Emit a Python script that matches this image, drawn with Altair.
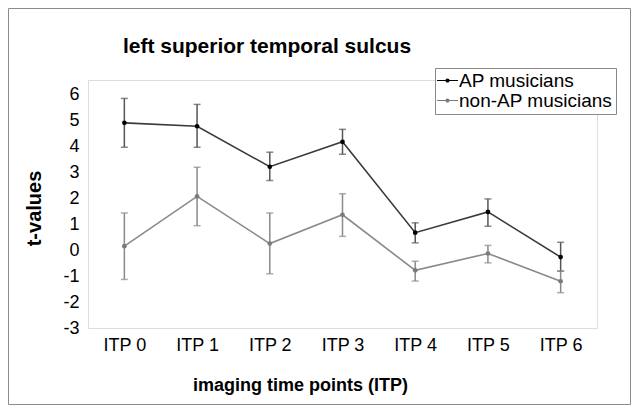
import altair as alt
import pandas as pd

itp = ["ITP 0", "ITP 1", "ITP 2", "ITP 3", "ITP 4", "ITP 5", "ITP 6"]
series = ["AP musicians", "non-AP musicians"]

ap_mean = [4.90, 4.77, 3.21, 4.17, 0.67, 1.47, -0.27]
ap_hi = [5.84, 5.61, 3.77, 4.65, 1.05, 1.97, 0.30]
ap_lo = [3.96, 3.96, 2.68, 3.69, 0.28, 0.92, -0.81]

non_mean = [0.15, 2.07, 0.25, 1.36, -0.78, -0.13, -1.20]
non_hi = [1.43, 3.19, 1.43, 2.17, -0.43, 0.18, -0.81]
non_lo = [-1.13, 0.94, -0.91, 0.53, -1.19, -0.49, -1.64]

y_ticks = [-3, -2, -1, 0, 1, 2, 3, 4, 5, 6]

rows = []
for name, m, lo, hi in [(series[0], ap_mean, ap_lo, ap_hi), (series[1], non_mean, non_lo, non_hi)]:
    for i, t in enumerate(itp):
        rows.append({"series": name, "itp": t, "value": m[i], "lo": lo[i], "hi": hi[i]})
df = pd.DataFrame(rows)

FONT = "Liberation Sans"
W, H = 509, 248

xscale = alt.Scale(type="point", padding=0.5, domain=itp)
yscale = alt.Scale(domain=[-3, 6.55], nice=False, zero=False)

xaxis = alt.Axis(
    title="imaging time points (ITP)", labelAngle=0, ticks=False, domain=False,
    labelFontSize=18, labelFont=FONT, labelColor="black", labelPadding=8,
    titleFontSize=18, titleFont=FONT, titleFontWeight="bold", titleColor="black",
    titleX=212, titleY=57, titleBaseline="middle", titleAlign="center",
)
yaxis = alt.Axis(
    title="t-values", values=y_ticks, ticks=False, domain=False, grid=False,
    labelExpr="'' + datum.value",
    labelFontSize=18, labelFont=FONT, labelColor="black", labelPadding=9,
    titleFontSize=20, titleFont=FONT, titleFontWeight="bold", titleColor="black",
    titleX=-54, titleY=128, titleBaseline="middle", titleAlign="center",
)

X = alt.X("itp:N", scale=xscale, axis=xaxis, sort=itp)

frame = alt.Chart(pd.DataFrame({"k": [0]})).mark_rect(
    fillOpacity=0, stroke="#8c8c8c", strokeWidth=1
).encode(
    x=alt.value(-79.5), x2=alt.value(542.5), y=alt.value(-71.5), y2=alt.value(324.5)
)

base = alt.Chart(df)

err_color = alt.Color("series:N", scale=alt.Scale(domain=series, range=["#555555", "#8a8a8a"]), legend=None)

rules = base.mark_rule(strokeWidth=1.5).encode(
    x=X, y=alt.Y("lo:Q", scale=yscale, axis=yaxis), y2="hi:Q", color=err_color
)
caps_lo = base.mark_tick(size=7, thickness=1.5).encode(
    x=X, y=alt.Y("lo:Q", scale=yscale, axis=yaxis), color=err_color
)
caps_hi = base.mark_tick(size=7, thickness=1.5).encode(
    x=X, y=alt.Y("hi:Q", scale=yscale, axis=yaxis), color=err_color
)

lines = base.mark_line(strokeWidth=1.6).encode(
    x=X, y=alt.Y("value:Q", scale=yscale, axis=yaxis),
    color=alt.Color("series:N", scale=alt.Scale(domain=series, range=["#3a3a3a", "#8a8a8a"]), legend=None),
)

legend_symbol = "M-2,-0.09H2V0.09H-2Z M-0.4,0A0.4,0.4,0,1,1,0.4,0A0.4,0.4,0,1,1,-0.4,0"

points = base.mark_point(filled=True, size=22, opacity=1).encode(
    x=X, y=alt.Y("value:Q", scale=yscale, axis=yaxis),
    color=alt.Color(
        "series:N",
        scale=alt.Scale(domain=series, range=["#000000", "#7a7a7a"]),
        legend=alt.Legend(
            title=None, orient="none", legendX=347, legendY=-12,
            symbolType=legend_symbol, symbolSize=110, symbolOpacity=1,
            labelFontSize=19, labelFont=FONT, labelColor="black", labelOffset=2,
            strokeColor="#888888", fillColor="white", padding=3, rowPadding=-6,
            labelLimit=300,
        ),
    ),
)

chart = alt.layer(frame, rules, caps_lo, caps_hi, lines, points).resolve_scale(
    color="independent"
).properties(
    width=W, height=H,
    title=alt.Title(
        "left superior temporal sulcus", fontSize=21, fontWeight="bold", font=FONT,
        color="black", anchor="middle", frame="group", dx=-75.5, offset=0, dy=66,
        baseline="alphabetic",
    ),
    autosize=alt.AutoSizeParams(type="none"),
    padding={"left": 80, "top": 72, "right": 34, "bottom": 77},
).configure_view(
    stroke="#cccccc", strokeWidth=1.5
).configure(background="white")

chart.save("out.html", embed_options={"renderer": "svg", "actions": False})
